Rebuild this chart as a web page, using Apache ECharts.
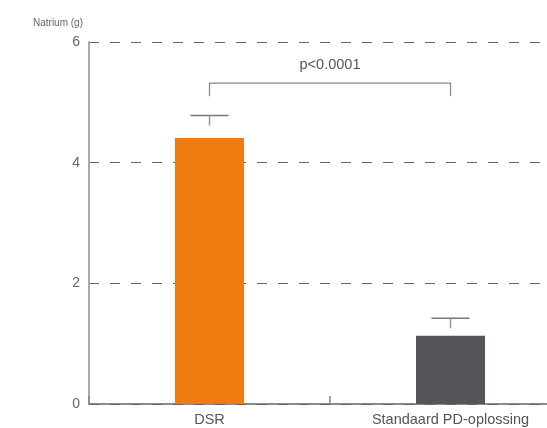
<!DOCTYPE html>
<html>
<head>
<meta charset="utf-8">
<script src="https://cdn.jsdelivr.net/npm/echarts@6/dist/echarts.min.js"></script>
<style>
  html, body { margin: 0; padding: 0; background: #fff; }
  #chart { width: 547px; height: 428px; }
</style>
</head>
<body>
<div id="chart"></div>
<script>
// values
var categories = ['DSR', 'Standaard PD-oplossing'];
var means = [4.41, 1.13];
var upper = [4.78, 1.42];
var barColors = ['#ef7b11', '#55565b'];
var yTicks = [0, 2, 4, 6];
var bracketFrom = 0, bracketTo = 1;
var bracketLevel = 5.32;
var bracketFoot = 5.10;
var pLabel = 'p<0.0001';

var myChart = echarts.init(document.getElementById('chart'));

var option = {
    animation: false,
    title: {
        text: 'Natrium (g)',
        left: 28,
        top: 13,
        textStyle: { fontSize: 10, fontWeight: 'normal', color: '#666', fontFamily: 'Liberation Sans' }
    },
    grid: { left: 89, width: 482, top: 42, bottom: 24, outerBoundsMode: 'none', containLabel: false },
    xAxis: {
        type: 'category',
        data: categories,
        axisLine: { lineStyle: { color: '#666', width: 1.5 } },
        axisTick: { show: true, interval: 0, inside: true, length: 8, lineStyle: { color: '#888', width: 1.5 } },
        axisLabel: { color: '#555', fontSize: 14.5, margin: 8, fontFamily: 'Liberation Sans' }
    },
    yAxis: {
        type: 'value',
        min: yTicks[0],
        max: yTicks[yTicks.length - 1],
        interval: 2,
        axisLine: { show: true, lineStyle: { color: '#aaa', width: 2 } },
        axisTick: { show: false },
        axisLabel: { color: '#666', fontSize: 14, margin: 9, fontFamily: 'Liberation Sans' },
        splitLine: {
            show: true,
            lineStyle: { color: '#666', width: 1, type: [10, 11] }
        }
    },
    series: [{
        type: 'bar',
        barWidth: 69,
        data: means.map(function (v, i) {
            return { value: v, itemStyle: { color: barColors[i] } };
        }),
        z: 2
    }, {
        type: 'custom',
        data: upper.map(function (v, i) { return [i, v]; }),
        renderItem: function (params, api) {
            var p = api.coord([api.value(0), api.value(1)]);
            return {
                type: 'group',
                children: [{
                    type: 'line',
                    shape: { x1: p[0] - 19, y1: p[1], x2: p[0] + 19, y2: p[1] },
                    style: { stroke: '#777', lineWidth: 1.5 }
                }, {
                    type: 'line',
                    shape: { x1: p[0], y1: p[1], x2: p[0], y2: p[1] + 10 },
                    style: { stroke: '#999', lineWidth: 1.5 }
                }]
            };
        },
        z: 3
    }, {
        type: 'custom',
        data: [[bracketFrom, bracketTo, bracketLevel, bracketFoot]],
        renderItem: function (params, api) {
            var a = api.coord([api.value(0), api.value(2)]);
            var b = api.coord([api.value(1), api.value(2)]);
            var foot = api.coord([api.value(0), api.value(3)])[1];
            return {
                type: 'group',
                children: [{
                    type: 'polyline',
                    shape: { points: [[a[0], foot], [a[0], a[1]], [b[0], b[1]], [b[0], foot]] },
                    style: { stroke: '#888', lineWidth: 1.2, fill: null }
                }, {
                    type: 'text',
                    x: (a[0] + b[0]) / 2,
                    y: a[1] - 18,
                    style: {
                        text: pLabel,
                        fill: '#555',
                        fontSize: 14.5,
                        fontFamily: 'Liberation Sans',
                        align: 'center',
                        verticalAlign: 'middle'
                    }
                }]
            };
        },
        z: 3
    }]
};
myChart.setOption(option);
</script>
</body>
</html>
